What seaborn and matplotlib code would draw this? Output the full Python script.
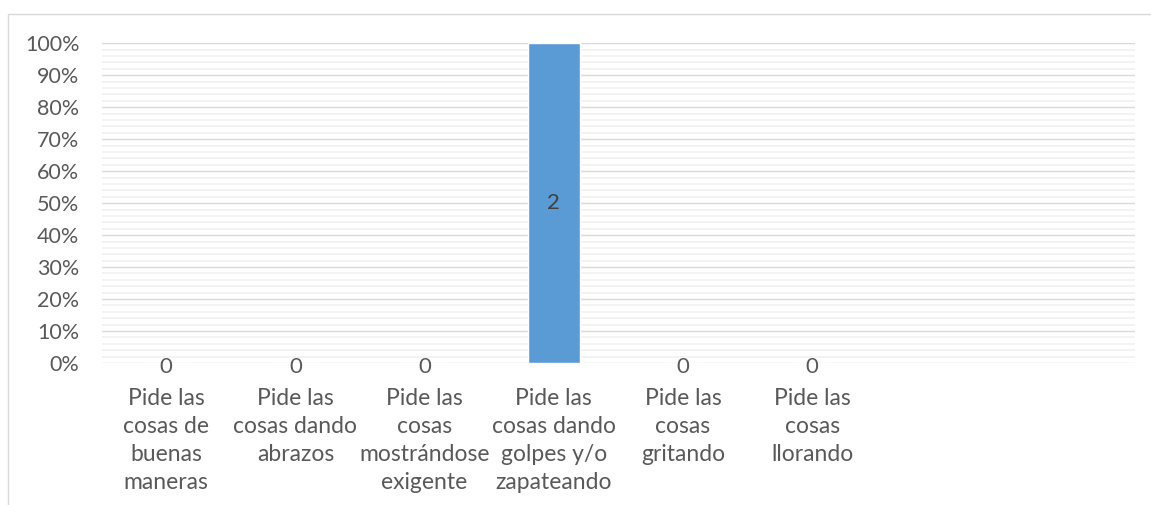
import matplotlib
matplotlib.use("Agg")
import matplotlib.pyplot as plt
import matplotlib.ticker as mticker
from matplotlib.patches import Rectangle
import numpy as np
import pandas as pd
import seaborn as sns

categories = [
    "Pide las cosas de buenas maneras",
    "Pide las cosas dando abrazos",
    "Pide las cosas mostrándose exigente",
    "Pide las cosas dando golpes y/o zapateando",
    "Pide las cosas gritando",
    "Pide las cosas llorando",
]
tick_labels = [
    "Pide las\ncosas de\nbuenas\nmaneras",
    "Pide las\ncosas dando\nabrazos",
    "Pide las\ncosas\nmostrándose\nexigente",
    "Pide las\ncosas dando\ngolpes y/o\nzapateando",
    "Pide las\ncosas\ngritando",
    "Pide las\ncosas\nllorando",
    "",
    "",
]
counts = [0, 0, 0, 2, 0, 0]
empty_slots = ["_vacio1", "_vacio2"]

# 100% stacked: share of each category total (single series)
counts_arr = np.array(counts, dtype=float)
share = np.where(counts_arr > 0, counts_arr / np.where(counts_arr > 0, counts_arr, 1), 0.0)
df = pd.DataFrame({"categoria": categories, "valor": share})

sns.set_style("white")
plt.rcParams["font.family"] = ["Lato", "DejaVu Sans"]
text_color = "#595959"

fig = plt.figure(figsize=(11.51, 5.05), dpi=100)
# chart area border
fig.patches.append(Rectangle((8 / 1151, -0.1), 1.2, 1 - 14 / 505 + 0.1,
                             transform=fig.transFigure, fill=False,
                             edgecolor="#d9d9d9", linewidth=1.0))
ax = fig.add_axes([101.7 / 1151, 1 - 363 / 505, (1135 - 101.7) / 1151, (363 - 43.3) / 505])

sns.barplot(data=df, x="categoria", y="valor", order=categories + empty_slots,
            color="#5b9bd5", width=0.4, saturation=1, ax=ax, errorbar=None, zorder=3)

ax.set_xlim(-0.5, 7.5)
ax.set_ylim(0, 1)
ax.yaxis.set_major_locator(mticker.MultipleLocator(0.1))
ax.yaxis.set_minor_locator(mticker.MultipleLocator(0.02))
ax.yaxis.set_major_formatter(mticker.PercentFormatter(1.0, decimals=0))
ax.grid(axis="y", which="minor", color="#f2f2f2", linewidth=1.3, zorder=0)
ax.grid(axis="y", which="major", color="#d9d9d9", linewidth=1.0, zorder=1)
ax.set_axisbelow(True)
for s in ax.spines.values():
    s.set_visible(False)

ax.set_xticks(range(8))
ax.set_xticklabels(tick_labels, fontsize=16.5, color=text_color, linespacing=1.42)
ax.tick_params(axis="x", length=0, pad=18)
ax.tick_params(axis="y", which="both", length=0, pad=16, labelsize=15.5, labelcolor=text_color)
ax.set_xlabel("")
ax.set_ylabel("")

zero_labels = [str(c) if c == 0 else "" for c in counts]
value_labels = [str(c) if c > 0 else "" for c in counts]
ax.bar_label(ax.containers[0], labels=value_labels, label_type="center",
             fontsize=16, color="#404040")
zl = ax.bar_label(ax.containers[0], labels=zero_labels, label_type="edge",
                  padding=-3, fontsize=16, color=text_color)
for t in zl:
    t.set_va("center")

fig.savefig("out.png", dpi=100)
